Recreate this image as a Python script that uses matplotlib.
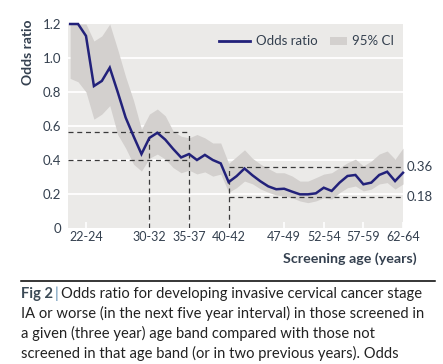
import numpy as np
import matplotlib
matplotlib.use("Agg")
import matplotlib.pyplot as plt
from matplotlib.patches import Rectangle
from matplotlib.lines import Line2D

plt.rcParams['font.family'] = ['Lato', 'DejaVu Sans']

# data (one point per screening age, 20..62)
ages = list(range(20, 63))
odds = [1.2, 1.2, 1.13, 0.835, 0.865, 0.943, 0.80, 0.65, 0.54, 0.435,
        0.53, 0.56, 0.52, 0.465, 0.415, 0.435, 0.40, 0.43, 0.40, 0.38,
        0.27, 0.305, 0.35, 0.31, 0.275, 0.245, 0.228, 0.231, 0.214, 0.198,
        0.198, 0.204, 0.237, 0.218, 0.267, 0.306, 0.312, 0.257, 0.267, 0.312,
        0.331, 0.276, 0.325]
ci_upper = [1.2, 1.2, 1.2, 1.1, 1.13, 1.2, 1.05, 0.89, 0.75, 0.58,
            0.67, 0.70, 0.66, 0.57, 0.54, 0.53, 0.55, 0.53, 0.50, 0.50,
            0.38, 0.42, 0.46, 0.41, 0.376, 0.35, 0.325, 0.325, 0.306, 0.276,
            0.276, 0.296, 0.317, 0.325, 0.355, 0.384, 0.405, 0.365, 0.394, 0.435,
            0.453, 0.405, 0.47]
ci_lower = [0.88, 0.86, 0.80, 0.64, 0.67, 0.72, 0.55, 0.47, 0.375, 0.335,
            0.41, 0.435, 0.405, 0.355, 0.325, 0.34, 0.318, 0.33, 0.305, 0.317,
            0.21, 0.237, 0.276, 0.26, 0.23, 0.21, 0.194, 0.188, 0.178, 0.159,
            0.149, 0.159, 0.178, 0.17, 0.208, 0.237, 0.247, 0.218, 0.229, 0.259,
            0.267, 0.229, 0.259]

tick_ages = [22, 30, 35, 40, 47, 52, 57, 62]
tick_labels = ['22-24', '30-32', '35-37', '40-42', '47-49', '52-54', '57-59', '62-64']
y_ticks = [0, 0.2, 0.4, 0.6, 0.8, 1.0, 1.2]
y_tick_labels = ['0', '0.2', '0.4', '0.6', '0.8', '1.0', '1.2']

# reference guides
young_levels = [0.565, 0.40]
young_ages = [30, 35]
old_levels = [0.36, 0.18]
old_age = 40

caption = ["Odds ratio for developing invasive cervical cancer stage",
           "IA or worse (in the next five year interval) in those screened in",
           "a given (three year) age band compared with those not",
           "screened in that age band (or in two previous years). Odds"]

bg = '#EBEAE8'
band = '#D3D0CE'
navy = '#22217A'
txt = '#34404F'
dash = '#3A3A3A'

fig = plt.figure(figsize=(4.43, 3.64), dpi=100)
W, H = 443, 364
ax = fig.add_axes([68 / W, 1 - 228 / H, 335 / W, 204 / H])
ax.set_facecolor(bg)
for s in ax.spines.values():
    s.set_visible(False)

for v in y_ticks[1:-1]:
    ax.axhline(v, color='white', lw=1.3, zorder=1)

ax.fill_between(ages, ci_lower, ci_upper, color=band, lw=0, zorder=2)
ax.plot(ages, odds, color=navy, lw=1.8, zorder=4, clip_on=False, solid_joinstyle='miter')

dkw = dict(color=dash, lw=0.9, ls=(0, (4, 3)), zorder=3)
x0 = 19.73
ax.hlines(young_levels, x0, young_ages[1], **dkw)
ax.vlines(young_ages[0], 0, odds[ages.index(young_ages[0])], **dkw)
ax.vlines(young_ages[1], 0, young_levels[0], **dkw)
ax.hlines(old_levels, old_age, 62, **dkw)
ax.vlines(old_age, 0, old_levels[0], **dkw)
for v in old_levels:
    ax.text(62.5, v, f'{v:.2f}', va='center', ha='left', fontsize=9.5, color=txt)

ax.set_xlim(x0, 62)
ax.set_ylim(0, 1.2)
ax.set_xticks(tick_ages)
ax.set_xticklabels(tick_labels)
ax.set_yticks(y_ticks)
ax.set_yticklabels(y_tick_labels)
ax.tick_params(axis='x', direction='in', length=4, width=1.2, color='white',
               labelsize=9, labelcolor=txt, pad=2)
ax.tick_params(axis='y', length=0, labelsize=9.5, labelcolor=txt, pad=5)

# legend drawn by hand so the line and the patch get their own widths
ly = (228 - 41) / 204
ax.add_line(Line2D([0.451, 0.543], [ly, ly], transform=ax.transAxes, color=navy, lw=2))
ax.text(0.561, ly, 'Odds ratio', transform=ax.transAxes, va='center', ha='left',
        fontsize=9.5, color=txt)
ax.add_patch(Rectangle((0.782, ly - 4 / 204), 0.051, 8 / 204, transform=ax.transAxes,
                       facecolor=band, edgecolor='none'))
ax.text(0.848, ly, '95% CI', transform=ax.transAxes, va='center', ha='left',
        fontsize=9.5, color=txt)

fig.text(28 / W, 1 - 52 / H, 'Odds ratio', rotation=90, va='center', ha='center',
         fontsize=10, fontweight='bold', color=txt)
fig.text(417 / W, 1 - 259 / H, 'Screening age (years)', va='center', ha='right',
         fontsize=10.3, fontweight='bold', color=txt)

fig.add_artist(Line2D([21 / W, 435 / W], [1 - 281 / H, 1 - 281 / H], color='black', lw=1.1))

# caption
r = fig.canvas.get_renderer()
base = 1 - 298 / H
cs = 10.6
t1 = fig.text(21 / W, base, 'Fig 2', fontsize=cs, fontweight='bold', color='#3B4A56', va='baseline')
bb = t1.get_window_extent(r)
t2 = fig.text(bb.x1 / W + 1.5 / W, base, '|', fontsize=cs, color='#5A8AB0', va='baseline')
bb2 = t2.get_window_extent(r)
fig.text(bb2.x1 / W + 3 / W, base, caption[0], fontsize=cs, color='#222222', va='baseline')
for i, line in enumerate(caption[1:], start=1):
    fig.text(21 / W, base - i * 20 / H, line, fontsize=cs, color='#222222', va='baseline')

fig.savefig('out.png', dpi=100)
